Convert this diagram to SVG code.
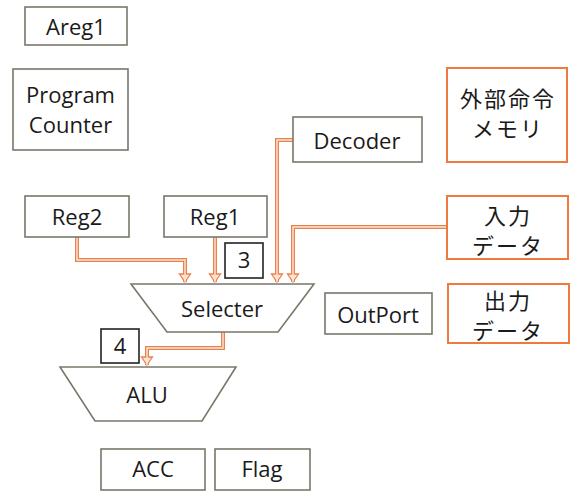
<svg xmlns="http://www.w3.org/2000/svg" width="573" height="491" viewBox="0 0 573 491">
<style>
.box{fill:#fff;stroke:#77776a;stroke-width:1.6}
.obox{fill:#fff;stroke:#ee7a3e;stroke-width:2}
.nbox{fill:#fff;stroke:#222;stroke-width:1.6}
.t{font-family:"Open Sans","Liberation Sans",sans-serif;font-size:22px;fill:#1a1a1a;text-anchor:middle}
.j{font-family:"Noto Sans CJK JP","Noto Sans",sans-serif;font-size:22px;fill:#1a1a1a;text-anchor:middle;letter-spacing:2px}
.co{fill:none;stroke:#e8824c;stroke-width:4;marker-end:url(#ah)}
.ci{fill:none;stroke:#fde6d8;stroke-width:1.4}
</style>
<defs>
<marker id="ah" markerUnits="userSpaceOnUse" markerWidth="14" markerHeight="14" viewBox="-10 -7 12 14" refX="0" refY="0" orient="auto">
<polygon points="0,0 -8,-5.5 -8,5.5" fill="#fde6d8" stroke="#e8824c" stroke-width="1.3"/>
</marker>
</defs>
<g id="connectors">
<path class="co" d="M77,237 V260 H185 V282"/>
<path class="ci" d="M77,237 V260 H185 V282"/>
<path class="co" d="M215,237 V282"/>
<path class="ci" d="M215,237 V282"/>
<path class="co" d="M293,140 H277 V282"/>
<path class="ci" d="M293,140 H277 V282"/>
<path class="co" d="M447,227 H293 V282"/>
<path class="ci" d="M447,227 H293 V282"/>
<path class="co" d="M223,332 V348 H147 V365"/>
<path class="ci" d="M223,332 V348 H147 V365"/>
</g>
<g id="areg1"><rect class="box" x="25" y="7" width="102" height="38"/><text class="t" x="76" y="35">Areg1</text></g>
<g id="pc"><rect class="box" x="13" y="69" width="115" height="81"/><text class="t" x="70.5" y="103">Program</text><text class="t" x="70.5" y="133">Counter</text></g>
<g id="decoder"><rect class="box" x="293" y="117" width="129" height="45"/><text class="t" x="357" y="149">Decoder</text></g>
<g id="reg2"><rect class="box" x="25" y="196" width="104" height="41"/><text class="t" x="77" y="225">Reg2</text></g>
<g id="reg1"><rect class="box" x="164" y="196" width="103" height="41"/><text class="t" x="215" y="225">Reg1</text></g>
<g id="n3"><rect class="nbox" x="225" y="243" width="38" height="35"/><text class="t" x="244" y="268">3</text></g>
<g id="selecter"><polygon class="box" points="131,284 314,284 278,332 167,332"/><text class="t" x="222" y="317">Selecter</text></g>
<g id="n4"><rect class="nbox" x="101" y="329" width="38" height="34"/><text class="t" x="120" y="354">4</text></g>
<g id="alu"><polygon class="box" points="60,367 236,367 202,421 95,421"/><text class="t" x="147" y="403">ALU</text></g>
<g id="outport"><rect class="box" x="325" y="293" width="107" height="41"/><text class="t" x="378" y="323">OutPort</text></g>
<g id="acc"><rect class="box" x="101" y="449" width="104" height="41"/><text class="t" x="153" y="477">ACC</text></g>
<g id="flag"><rect class="box" x="215" y="449" width="95" height="41"/><text class="t" x="262" y="477">Flag</text></g>
<g id="mem"><rect class="obox" x="447" y="68" width="120" height="94"/><text class="j" x="508" y="107">外部命令</text><text class="j" x="508" y="137" letter-spacing="6">メモリ</text></g>
<g id="indata"><rect class="obox" x="447" y="196" width="121" height="63"/><text class="j" x="508" y="224">入力</text><text class="j" x="508" y="254">データ</text></g>
<g id="outdata"><rect class="obox" x="448" y="284" width="121" height="59"/><text class="j" x="508" y="309">出力</text><text class="j" x="508" y="339">データ</text></g>
</svg>
